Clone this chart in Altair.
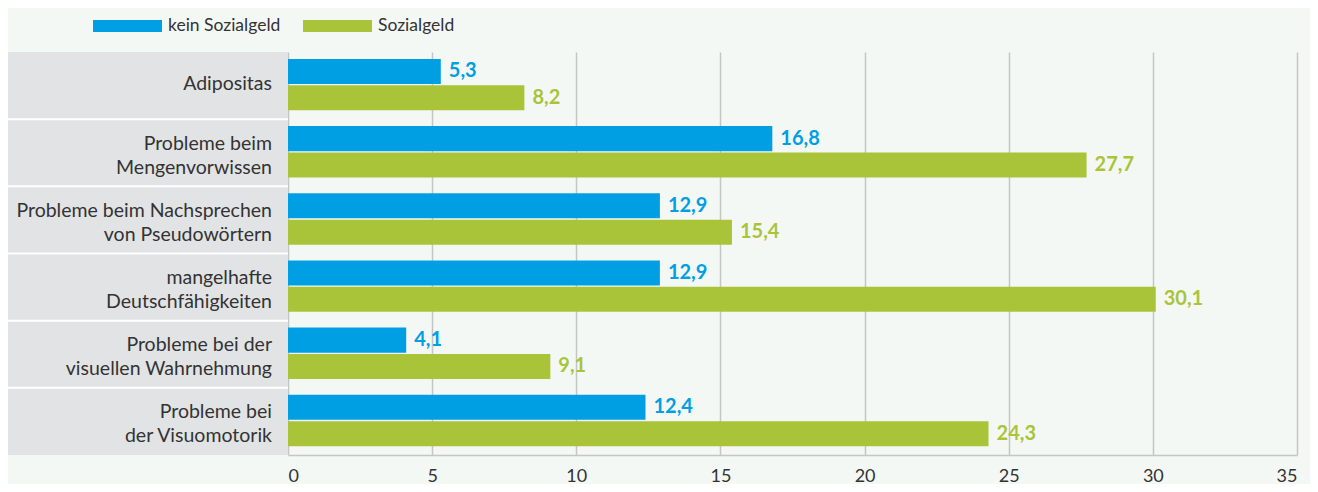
import altair as alt
import pandas as pd

categories = [
    "Adipositas",
    "Probleme beim Mengenvorwissen",
    "Probleme beim Nachsprechen von Pseudowörtern",
    "mangelhafte Deutschfähigkeiten",
    "Probleme bei der visuellen Wahrnehmung",
    "Probleme bei der Visuomotorik",
]
category_lines = [
    ["Adipositas"],
    ["Probleme beim\u2005", "Mengenvorwissen"],
    ["Probleme beim Nachsprechen", "von Pseudowörtern"],
    ["mangelhafte\u2005", "Deutschfähigkeiten"],
    ["Probleme bei der\u2005", "visuellen Wahrnehmung"],
    ["Probleme bei\u2005", "der Visuomotorik"],
]
series = ["kein Sozialgeld", "Sozialgeld"]
kein_sozialgeld = [5.3, 16.8, 12.9, 12.9, 4.1, 12.4]
sozialgeld = [8.2, 27.7, 15.4, 30.1, 9.1, 24.3]
x_ticks = [0, 5, 10, 15, 20, 25, 30, 35]

BLUE = "#009fe3"
GREEN = "#aac43a"
BG = "#f4f8f5"
PANEL = "#e2e3e5"
TEXT = "#333333"
GRID = "#c3c5c7"
FONT = "Lato"

rows = []
for c, a, b in zip(categories, kein_sozialgeld, sozialgeld):
    rows.append({"cat": c, "series": series[0], "value": a, "label": f"{a:.1f}".replace(".", ",")})
    rows.append({"cat": c, "series": series[1], "value": b, "label": f"{b:.1f}".replace(".", ",")})
df = pd.DataFrame(rows)
cats_df = pd.DataFrame({"cat": categories, "lines": category_lines,
                        "n": [len(l) for l in category_lines]})
sep_df = pd.DataFrame({"cat": categories[1:]})

y_scale = alt.Scale(paddingInner=0, paddingOuter=0)
y_enc = alt.Y("cat:N", sort=categories, scale=y_scale, axis=None)
yoff_enc = alt.YOffset(
    "series:N", sort=series,
    scale=alt.Scale(paddingInner=0.05, paddingOuter=0.3, align=0.44),
)
x_enc = alt.X(
    "value:Q",
    scale=alt.Scale(domain=[0, 35], nice=False),
    axis=alt.Axis(
        values=x_ticks, title=None, ticks=False, grid=True,
        gridColor=GRID, gridWidth=1.5, domainColor=GRID, domainWidth=1.5,
        labelFontSize=18, labelFont=FONT, labelColor=TEXT, labelPadding=12,
    ),
)
color_enc = alt.Color(
    "series:N",
    scale=alt.Scale(domain=series, range=[BLUE, GREEN]),
    legend=alt.Legend(
        orient="none", legendX=-195, legendY=-60.5, direction="horizontal",
        title=None, symbolType="M-1,-0.174L1,-0.174L1,0.174L-1,0.174Z",
        symbolSize=4761, symbolStrokeWidth=0, labelFont=FONT, labelFontSize=17.5,
        labelColor=TEXT, labelOffset=6, columnPadding=22, padding=0,
    ),
)

panel = alt.Chart(cats_df).mark_rect(color=PANEL).encode(
    y=y_enc, x=alt.value(-280), x2=alt.value(0)
)
seps = alt.Chart(sep_df).mark_rule(color="white", strokeWidth=2).encode(
    y=alt.Y("cat:N", sort=categories, bandPosition=0, scale=y_scale, axis=None),
    x=alt.value(-280), x2=alt.value(0),
)
label_base = alt.Chart(cats_df)
labels_one = label_base.transform_filter("datum.n == 1").mark_text(
    align="right", baseline="middle", font=FONT, fontSize=19.5, color=TEXT, dy=-2
).encode(y=y_enc, x=alt.value(-16), text="lines")
labels_two = label_base.transform_filter("datum.n == 2").mark_text(
    align="right", baseline="middle", font=FONT, fontSize=19.5, lineHeight=24, color=TEXT, dy=-9
).encode(y=y_enc, x=alt.value(-16), text="lines")

bars = alt.Chart(df).mark_bar().encode(y=y_enc, yOffset=yoff_enc, x=x_enc, color=color_enc)
vals = alt.Chart(df).mark_text(
    align="left", baseline="middle", dx=8, font=FONT, fontSize=20, fontWeight="bold"
).encode(
    y=y_enc, yOffset=yoff_enc, x="value:Q", text="label:N",
    color=alt.Color("series:N", scale=alt.Scale(domain=series, range=[BLUE, GREEN]), legend=None),
)

chart = alt.layer(panel, seps, labels_one, labels_two, bars, vals).properties(
    width=1009, height=403,
    autosize=alt.AutoSizeParams(type="none"),
    padding={"left": 280, "top": 44, "right": 13, "bottom": 29},
    background=BG,
).configure_view(stroke=None)

chart.save("out.html", embed_options={"renderer": "svg", "actions": False})
